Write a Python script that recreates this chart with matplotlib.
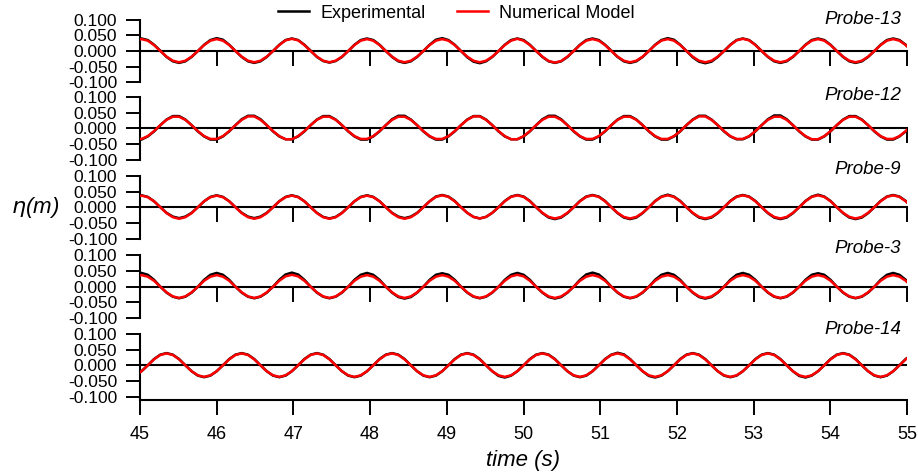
import numpy as np
import matplotlib
matplotlib.use("Agg")
import matplotlib.pyplot as plt

plt.rcParams['font.family'] = ['Liberation Sans', 'DejaVu Sans']
plt.rcParams['axes.unicode_minus'] = False

# digitised records: 12 samples per wave period (T ~ 0.98 s), starting at t0
t0 = 44.938
dt = 0.98 / 12
n_samples = 125

probes = ['Probe-13', 'Probe-12', 'Probe-9', 'Probe-3', 'Probe-14']

# surface elevation in mm, one row per wave period
p13_exp = [
    35, 40, 35, 20, 1, -19, -33, -38, -33, -19, 0, 20,
    35, 41, 36, 20, 0, -19, -33, -38, -33, -19, 0, 20,
    35, 40, 35, 20, 1, -19, -32, -37, -32, -19, 0, 20,
    35, 40, 35, 20, 0, -19, -33, -38, -33, -19, 0, 20,
    36, 41, 35, 20, 0, -20, -34, -39, -33, -19, 0, 20,
    35, 40, 35, 20, 0, -19, -33, -38, -33, -19, 0, 20,
    35, 40, 35, 20, 1, -19, -33, -38, -33, -19, 0, 20,
    35, 41, 36, 20, 0, -20, -34, -39, -34, -19, 0, 20,
    35, 40, 35, 20, 0, -19, -33, -38, -33, -19, 0, 20,
    35, 40, 35, 20, 0, -19, -33, -38, -33, -19, 0, 20,
    35, 40, 35, 20, 0,
]
p13_num = [
    33, 38, 33, 19, 0, -18, -31, -36, -31, -18, 0, 19,
    33, 38, 33, 19, 0, -18, -31, -36, -31, -18, 0, 19,
    34, 39, 34, 19, 0, -18, -31, -36, -31, -18, 0, 19,
    33, 38, 33, 19, 0, -18, -31, -36, -31, -18, 0, 19,
    33, 38, 33, 19, 0, -18, -31, -36, -31, -18, 0, 19,
    33, 39, 33, 19, 0, -18, -32, -37, -32, -18, 0, 19,
    33, 38, 33, 19, 0, -18, -31, -36, -31, -18, 0, 19,
    33, 38, 33, 19, 0, -18, -31, -36, -31, -18, 0, 19,
    34, 39, 34, 19, 0, -18, -31, -36, -31, -18, 0, 19,
    33, 38, 33, 19, 0, -18, -31, -36, -31, -18, 0, 19,
    33, 38, 33, 19, 0,
]
p12_exp = [
    -36, -36, -26, -10, 10, 28, 39, 39, 28, 10, -10, -26,
    -36, -36, -26, -10, 10, 29, 40, 40, 29, 10, -10, -26,
    -35, -35, -26, -10, 10, 28, 39, 39, 28, 10, -10, -26,
    -36, -36, -26, -10, 10, 29, 40, 40, 28, 10, -10, -26,
    -36, -36, -26, -10, 10, 28, 39, 39, 28, 10, -10, -26,
    -35, -35, -26, -10, 10, 29, 40, 40, 29, 10, -10, -26,
    -36, -36, -26, -10, 10, 28, 39, 39, 28, 10, -10, -26,
    -36, -36, -26, -10, 10, 28, 40, 40, 28, 10, -10, -26,
    -35, -35, -26, -10, 10, 29, 41, 41, 29, 10, -10, -26,
    -36, -36, -26, -10, 10, 28, 39, 39, 28, 10, -10, -26,
    -36, -36, -26, -10, 10,
]
p12_num = [
    -34, -34, -25, -9, 10, 27, 37, 37, 27, 10, -9, -25,
    -34, -34, -25, -9, 10, 27, 38, 38, 27, 10, -9, -25,
    -35, -35, -25, -9, 10, 27, 37, 37, 27, 10, -9, -25,
    -34, -34, -25, -9, 10, 27, 37, 37, 27, 10, -9, -25,
    -34, -34, -25, -9, 10, 27, 38, 38, 27, 10, -9, -25,
    -35, -35, -25, -9, 10, 27, 37, 37, 27, 10, -9, -25,
    -34, -34, -25, -9, 10, 27, 37, 37, 27, 10, -9, -25,
    -34, -34, -25, -9, 10, 27, 38, 38, 27, 10, -9, -25,
    -34, -34, -25, -9, 10, 27, 37, 37, 27, 10, -9, -25,
    -35, -35, -25, -9, 10, 27, 37, 37, 27, 10, -9, -25,
    -34, -34, -25, -9, 10,
]
p9_exp = [
    33, 38, 33, 19, 0, -18, -30, -35, -30, -18, 0, 19,
    33, 38, 33, 19, 0, -18, -30, -35, -30, -18, 0, 19,
    33, 38, 33, 19, 0, -18, -31, -36, -31, -18, 0, 19,
    33, 38, 33, 19, 0, -18, -30, -35, -30, -18, 0, 19,
    34, 39, 34, 20, 0, -18, -31, -36, -31, -18, 0, 20,
    34, 39, 34, 20, 0, -19, -33, -38, -33, -19, 0, 20,
    34, 39, 34, 20, 0, -19, -33, -38, -33, -19, 0, 20,
    34, 40, 34, 20, 0, -19, -33, -38, -33, -19, 0, 20,
    34, 39, 34, 20, 0, -19, -33, -38, -33, -19, 0, 20,
    34, 40, 34, 20, 0, -19, -33, -38, -33, -19, 0, 20,
    34, 39, 34, 20, 0,
]
p9_num = [
    32, 37, 32, 19, 0, -19, -32, -37, -32, -19, 0, 19,
    32, 37, 32, 19, 0, -19, -32, -37, -32, -19, 0, 19,
    32, 37, 32, 19, 0, -19, -32, -37, -32, -19, 0, 19,
    32, 37, 32, 19, 0, -19, -32, -37, -32, -19, 0, 19,
    33, 38, 33, 19, 0, -18, -31, -36, -31, -18, 0, 19,
    33, 38, 33, 19, 0, -18, -31, -36, -31, -18, 0, 19,
    33, 38, 33, 19, 0, -18, -31, -36, -31, -18, 0, 19,
    33, 38, 33, 19, 0, -18, -31, -36, -31, -18, 0, 19,
    33, 38, 33, 19, 0, -18, -31, -36, -31, -18, 0, 19,
    33, 38, 33, 19, 0, -18, -31, -36, -31, -18, 0, 19,
    33, 38, 33, 19, 0,
]
p3_exp = [
    38, 44, 38, 22, 0, -19, -32, -37, -32, -19, 0, 22,
    38, 44, 38, 22, 0, -19, -32, -37, -32, -19, 0, 22,
    39, 45, 39, 22, 0, -19, -32, -37, -32, -19, 0, 22,
    38, 44, 38, 22, 0, -19, -33, -38, -33, -19, 0, 22,
    38, 43, 38, 22, 0, -19, -32, -37, -32, -19, 0, 22,
    38, 44, 38, 22, 0, -19, -33, -38, -33, -19, 0, 22,
    39, 45, 39, 22, 0, -19, -32, -37, -32, -19, 0, 22,
    38, 44, 38, 22, 0, -19, -33, -38, -33, -19, 0, 22,
    38, 44, 38, 22, 0, -19, -32, -37, -32, -19, 0, 22,
    38, 43, 38, 22, 0, -19, -32, -37, -32, -19, 0, 22,
    38, 44, 38, 22, 0,
]
p3_num = [
    32, 37, 32, 19, 0, -18, -31, -36, -31, -18, 0, 19,
    32, 37, 32, 19, 0, -18, -31, -36, -31, -18, 0, 19,
    33, 38, 33, 19, 0, -18, -31, -36, -31, -18, 0, 19,
    32, 37, 32, 19, 0, -18, -31, -36, -31, -18, 0, 19,
    32, 37, 32, 19, 0, -18, -31, -36, -31, -18, 0, 19,
    33, 38, 33, 19, 0, -18, -31, -36, -31, -18, 0, 19,
    32, 37, 32, 19, 0, -18, -31, -36, -31, -18, 0, 19,
    32, 37, 32, 19, 0, -18, -31, -36, -31, -18, 0, 19,
    32, 37, 32, 19, 0, -18, -31, -36, -31, -18, 0, 19,
    32, 37, 32, 19, 0, -18, -31, -36, -31, -18, 0, 19,
    32, 37, 32, 19, 0,
]
p14_exp = [
    -33, -19, 0, 20, 34, 39, 34, 20, 0, -19, -33, -38,
    -33, -19, 0, 20, 34, 39, 34, 20, 0, -19, -33, -38,
    -33, -19, 0, 20, 34, 39, 34, 20, 0, -19, -33, -38,
    -33, -19, 0, 20, 34, 39, 34, 20, 0, -19, -33, -38,
    -33, -19, 0, 20, 34, 39, 34, 20, 0, -19, -34, -39,
    -33, -19, 0, 20, 34, 39, 34, 20, 0, -19, -33, -38,
    -33, -19, 0, 20, 34, 40, 35, 20, 0, -19, -34, -39,
    -33, -19, 0, 20, 34, 39, 34, 20, 0, -19, -33, -38,
    -33, -19, 0, 20, 34, 39, 34, 20, 0, -19, -34, -39,
    -33, -19, 0, 20, 34, 39, 34, 20, 0, -19, -33, -38,
    -33, -19, 0, 20, 34,
]
p14_num = [
    -32, -19, 0, 19, 33, 38, 33, 19, 0, -19, -32, -37,
    -32, -19, 0, 19, 33, 38, 33, 19, 0, -19, -32, -37,
    -32, -19, 0, 19, 33, 38, 33, 19, 0, -19, -32, -37,
    -32, -19, 0, 19, 33, 38, 33, 19, 0, -19, -32, -37,
    -32, -19, 0, 19, 33, 38, 33, 19, 0, -19, -32, -37,
    -32, -19, 0, 19, 33, 38, 33, 19, 0, -19, -32, -37,
    -32, -19, 0, 19, 33, 38, 33, 19, 0, -19, -32, -37,
    -32, -19, 0, 19, 33, 38, 33, 19, 0, -19, -32, -37,
    -32, -19, 0, 19, 33, 38, 33, 19, 0, -19, -32, -37,
    -32, -19, 0, 19, 33, 38, 33, 19, 0, -19, -32, -37,
    -32, -19, 0, 19, 33,
]

experimental = [p13_exp, p12_exp, p9_exp, p3_exp, p14_exp]
numerical = [p13_num, p12_num, p9_num, p3_num, p14_num]

x_ticks = list(range(45, 56))
y_ticks = [-0.100, -0.050, 0.000, 0.050, 0.100]
y_labels = ['-0.100', '-0.050', '0.000', '0.050', '0.100']

t = t0 + dt * np.arange(n_samples)

# layout in pixels
W, H = 918, 473
x_left, x_right = 140, 907
centers = [51, 128.3, 207.2, 286.7, 365.3]
half = 31.3
label_lift = [0.7, 1.7, 6, 7, 4]

fig = plt.figure(figsize=(W / 100, H / 100), dpi=100)

for i, name in enumerate(probes):
    last = i == len(probes) - 1
    top = centers[i] - half
    bottom = centers[i] + half + (3 if last else 0)
    ax = fig.add_axes([x_left / W, 1 - bottom / H,
                       (x_right - x_left) / W, (bottom - top) / H])

    l_exp, = ax.plot(t, np.array(experimental[i]) / 1000, color='black',
                     lw=1.8, zorder=3)
    l_num, = ax.plot(t, np.array(numerical[i]) / 1000, color='red',
                     lw=1.8, zorder=4)

    y_low = -0.1 - (0.1 * 3 / half if last else 0)
    ax.set_xlim(45, 55)
    ax.set_ylim(y_low, 0.1)
    ax.patch.set_visible(False)
    for s in ['top', 'right']:
        ax.spines[s].set_visible(False)
    ax.spines['left'].set_linewidth(1.5)
    ax.spines['left'].set_bounds(y_low, 0.1)
    ax.spines['bottom'].set_linewidth(1.5)

    ax.set_yticks(y_ticks, y_labels)
    ax.tick_params(axis='y', direction='out', length=10, width=1.4,
                   pad=6.5, labelsize=12.5)
    ax.set_xticks(x_ticks)

    if last:
        ax.axhline(0, color='black', lw=1.5, zorder=2)
        ax.tick_params(axis='x', direction='out', length=11, width=1.4,
                       pad=8, labelsize=13)
    else:
        ax.spines['bottom'].set_position(('data', 0))
        ax.tick_params(axis='x', direction='out', length=11, width=1.4,
                       labelbottom=False)

    ax.annotate(name, xy=(0.992, 1.0), xycoords='axes fraction',
                xytext=(0, label_lift[i] * 0.72), textcoords='offset points',
                ha='right', va='center', fontsize=13.5, style='italic')

    if i == 0:
        handles = [l_exp, l_num]

fig.legend(handles, ['Experimental', 'Numerical Model'], loc='center',
           bbox_to_anchor=(0.497, 1 - 13 / H), ncol=2, frameon=False,
           fontsize=13, handlelength=1.75, handletextpad=0.6,
           columnspacing=1.75)

fig.text(35 / W, 1 - 207.5 / H, r'$\eta$(m)', fontsize=16, style='italic',
         ha='center', va='center')
fig.text((x_left + x_right) / 2 / W, 1 - 460 / H, 'time (s)', fontsize=16,
         style='italic', ha='center', va='center')

fig.savefig('out.png', dpi=100)
